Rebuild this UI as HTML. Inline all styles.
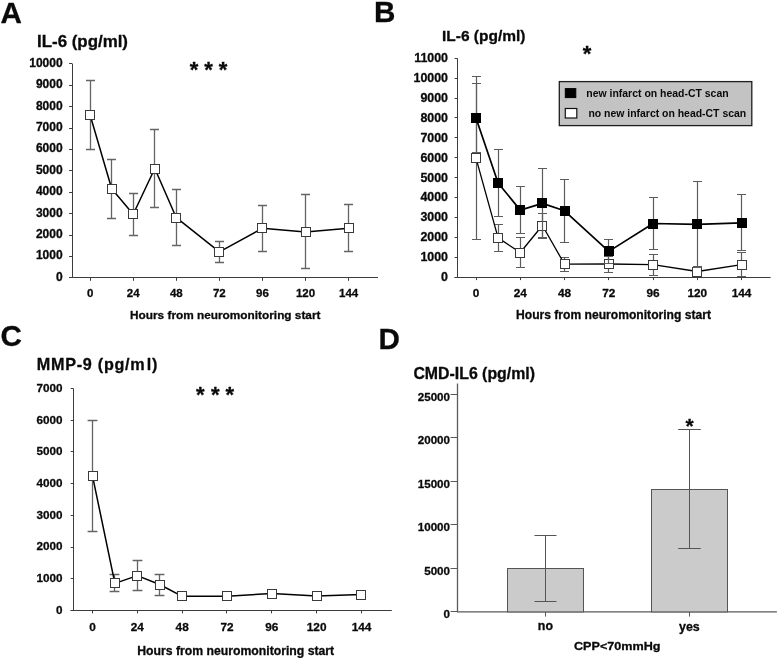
<!DOCTYPE html>
<html><head><meta charset="utf-8"><title>Figure</title>
<style>
html,body{margin:0;padding:0;background:#fff;}
body{width:779px;height:658px;overflow:hidden;}
svg{display:block;font-family:"Liberation Sans", sans-serif;filter:grayscale(1);}
text,path.n{stroke:#0a0a0a;stroke-width:0.3px;stroke-linejoin:round;}
</style></head>
<body>
<svg width="779" height="658" viewBox="0 0 779 658" shape-rendering="auto">
<rect width="779" height="658" fill="#fff"/>
<text x="0.4" y="23.4" font-size="29.6" text-anchor="start" font-weight="bold" fill="#0a0a0a">A</text>
<text x="374.0" y="21.6" font-size="29.6" text-anchor="start" font-weight="bold" fill="#0a0a0a">B</text>
<text x="0.6" y="346.4" font-size="29.6" text-anchor="start" font-weight="bold" fill="#0a0a0a">C</text>
<text x="378.4" y="348.8" font-size="29.6" text-anchor="start" font-weight="bold" fill="#0a0a0a">D</text>
<text x="37.0" y="46.6" font-size="16" text-anchor="start" font-weight="bold" fill="#0a0a0a" textLength="91" lengthAdjust="spacingAndGlyphs">IL-6 (pg/ml)</text>
<line x1="72.5" y1="63.8" x2="72.5" y2="277.8" stroke="#3c3c3c" stroke-width="1"/>
<line x1="69.1" y1="277.5" x2="378.0" y2="277.5" stroke="#3c3c3c" stroke-width="1"/>
<line x1="69.1" y1="277.5" x2="72.3" y2="277.5" stroke="#3c3c3c" stroke-width="1"/>
<text x="62.6" y="280.8" font-size="12" text-anchor="end" font-weight="bold" fill="#0a0a0a">0</text>
<line x1="69.1" y1="256.5" x2="72.3" y2="256.5" stroke="#3c3c3c" stroke-width="1"/>
<text x="62.6" y="259.4" font-size="12" text-anchor="end" font-weight="bold" fill="#0a0a0a">1000</text>
<line x1="69.1" y1="235.5" x2="72.3" y2="235.5" stroke="#3c3c3c" stroke-width="1"/>
<text x="62.6" y="238.0" font-size="12" text-anchor="end" font-weight="bold" fill="#0a0a0a">2000</text>
<line x1="69.1" y1="213.5" x2="72.3" y2="213.5" stroke="#3c3c3c" stroke-width="1"/>
<text x="62.6" y="216.6" font-size="12" text-anchor="end" font-weight="bold" fill="#0a0a0a">3000</text>
<line x1="69.1" y1="192.5" x2="72.3" y2="192.5" stroke="#3c3c3c" stroke-width="1"/>
<text x="62.6" y="195.2" font-size="12" text-anchor="end" font-weight="bold" fill="#0a0a0a">4000</text>
<line x1="69.1" y1="170.5" x2="72.3" y2="170.5" stroke="#3c3c3c" stroke-width="1"/>
<text x="62.6" y="173.8" font-size="12" text-anchor="end" font-weight="bold" fill="#0a0a0a">5000</text>
<line x1="69.1" y1="149.5" x2="72.3" y2="149.5" stroke="#3c3c3c" stroke-width="1"/>
<text x="62.6" y="152.4" font-size="12" text-anchor="end" font-weight="bold" fill="#0a0a0a">6000</text>
<line x1="69.1" y1="128.5" x2="72.3" y2="128.5" stroke="#3c3c3c" stroke-width="1"/>
<text x="62.6" y="131.0" font-size="12" text-anchor="end" font-weight="bold" fill="#0a0a0a">7000</text>
<line x1="69.1" y1="106.5" x2="72.3" y2="106.5" stroke="#3c3c3c" stroke-width="1"/>
<text x="62.6" y="109.6" font-size="12" text-anchor="end" font-weight="bold" fill="#0a0a0a">8000</text>
<line x1="69.1" y1="85.5" x2="72.3" y2="85.5" stroke="#3c3c3c" stroke-width="1"/>
<text x="62.6" y="88.2" font-size="12" text-anchor="end" font-weight="bold" fill="#0a0a0a">9000</text>
<line x1="69.1" y1="63.5" x2="72.3" y2="63.5" stroke="#3c3c3c" stroke-width="1"/>
<text x="62.6" y="66.8" font-size="12" text-anchor="end" font-weight="bold" fill="#0a0a0a">10000</text>
<line x1="90.5" y1="277.8" x2="90.5" y2="280.8" stroke="#3c3c3c" stroke-width="1"/>
<text x="90.13" y="297" font-size="11.5" text-anchor="middle" font-weight="bold" fill="#0a0a0a">0</text>
<line x1="133.5" y1="277.8" x2="133.5" y2="280.8" stroke="#3c3c3c" stroke-width="1"/>
<text x="133.21" y="297" font-size="11.5" text-anchor="middle" font-weight="bold" fill="#0a0a0a">24</text>
<line x1="176.5" y1="277.8" x2="176.5" y2="280.8" stroke="#3c3c3c" stroke-width="1"/>
<text x="176.29" y="297" font-size="11.5" text-anchor="middle" font-weight="bold" fill="#0a0a0a">48</text>
<line x1="219.5" y1="277.8" x2="219.5" y2="280.8" stroke="#3c3c3c" stroke-width="1"/>
<text x="219.37" y="297" font-size="11.5" text-anchor="middle" font-weight="bold" fill="#0a0a0a">72</text>
<line x1="262.5" y1="277.8" x2="262.5" y2="280.8" stroke="#3c3c3c" stroke-width="1"/>
<text x="262.45" y="297" font-size="11.5" text-anchor="middle" font-weight="bold" fill="#0a0a0a">96</text>
<line x1="305.5" y1="277.8" x2="305.5" y2="280.8" stroke="#3c3c3c" stroke-width="1"/>
<text x="305.53" y="297" font-size="11.5" text-anchor="middle" font-weight="bold" fill="#0a0a0a">120</text>
<line x1="348.5" y1="277.8" x2="348.5" y2="280.8" stroke="#3c3c3c" stroke-width="1"/>
<text x="348.61" y="297" font-size="11.5" text-anchor="middle" font-weight="bold" fill="#0a0a0a">144</text>
<text x="130.0" y="318.8" font-size="11.8" text-anchor="start" font-weight="bold" fill="#0a0a0a" textLength="190.5" lengthAdjust="spacingAndGlyphs">Hours from neuromonitoring start</text>
<text x="194.05" y="77.2" font-size="22" text-anchor="middle" font-weight="bold" fill="#0a0a0a">*</text>
<text x="208.5" y="77.2" font-size="22" text-anchor="middle" font-weight="bold" fill="#0a0a0a">*</text>
<text x="222.95" y="77.2" font-size="22" text-anchor="middle" font-weight="bold" fill="#0a0a0a">*</text>
<path d="M90.5 80.5V149.5M86.0 80.5H95.0M86.0 149.5H95.0" stroke="#646464" stroke-width="1.3" fill="none"/>
<path d="M111.5 159.5V218.5M107.0 159.5H116.0M107.0 218.5H116.0" stroke="#646464" stroke-width="1.3" fill="none"/>
<path d="M133.5 193.5V235.5M129.0 193.5H138.0M129.0 235.5H138.0" stroke="#646464" stroke-width="1.3" fill="none"/>
<path d="M154.5 129.5V207.5M150.0 129.5H159.0M150.0 207.5H159.0" stroke="#646464" stroke-width="1.3" fill="none"/>
<path d="M176.5 189.5V245.5M172.0 189.5H181.0M172.0 245.5H181.0" stroke="#646464" stroke-width="1.3" fill="none"/>
<path d="M219.5 241.5V262.5M215.0 241.5H224.0M215.0 262.5H224.0" stroke="#646464" stroke-width="1.3" fill="none"/>
<path d="M262.5 205.5V251.5M258.0 205.5H267.0M258.0 251.5H267.0" stroke="#646464" stroke-width="1.3" fill="none"/>
<path d="M305.5 194.5V268.5M301.0 194.5H310.0M301.0 268.5H310.0" stroke="#646464" stroke-width="1.3" fill="none"/>
<path d="M348.5 204.5V251.5M344.0 204.5H353.0M344.0 251.5H353.0" stroke="#646464" stroke-width="1.3" fill="none"/>
<polyline points="90.1,115.0 111.7,188.7 133.2,214.3 154.8,168.5 176.3,217.7 219.4,251.9 262.4,228.3 305.5,232.0 348.6,228.3" fill="none" stroke="#000" stroke-width="1.5" stroke-linejoin="round"/>
<rect x="85.5" y="110.5" width="9" height="9" fill="#fff" stroke="#3a3a3a" stroke-width="1"/>
<rect x="107.5" y="184.5" width="9" height="9" fill="#fff" stroke="#3a3a3a" stroke-width="1"/>
<rect x="128.5" y="209.5" width="9" height="9" fill="#fff" stroke="#3a3a3a" stroke-width="1"/>
<rect x="150.5" y="164.5" width="9" height="9" fill="#fff" stroke="#3a3a3a" stroke-width="1"/>
<rect x="171.5" y="213.5" width="9" height="9" fill="#fff" stroke="#3a3a3a" stroke-width="1"/>
<rect x="214.5" y="247.5" width="9" height="9" fill="#fff" stroke="#3a3a3a" stroke-width="1"/>
<rect x="257.5" y="223.5" width="9" height="9" fill="#fff" stroke="#3a3a3a" stroke-width="1"/>
<rect x="301.5" y="227.5" width="9" height="9" fill="#fff" stroke="#3a3a3a" stroke-width="1"/>
<rect x="344.5" y="223.5" width="9" height="9" fill="#fff" stroke="#3a3a3a" stroke-width="1"/>
<text x="442.0" y="41.1" font-size="15.2" text-anchor="start" font-weight="bold" fill="#0a0a0a" textLength="83.5" lengthAdjust="spacingAndGlyphs">IL-6 (pg/ml)</text>
<line x1="457.5" y1="58.3" x2="457.5" y2="277.1" stroke="#3c3c3c" stroke-width="1"/>
<line x1="454.6" y1="277.5" x2="770.6" y2="277.5" stroke="#3c3c3c" stroke-width="1"/>
<line x1="454.6" y1="277.5" x2="457.5" y2="277.5" stroke="#3c3c3c" stroke-width="1"/>
<text x="448.0" y="281.0" font-size="12.4" text-anchor="end" font-weight="bold" fill="#0a0a0a">0</text>
<line x1="454.6" y1="257.5" x2="457.5" y2="257.5" stroke="#3c3c3c" stroke-width="1"/>
<text x="448.0" y="261.1" font-size="12.4" text-anchor="end" font-weight="bold" fill="#0a0a0a">1000</text>
<line x1="454.6" y1="237.5" x2="457.5" y2="237.5" stroke="#3c3c3c" stroke-width="1"/>
<text x="448.0" y="241.2" font-size="12.4" text-anchor="end" font-weight="bold" fill="#0a0a0a">2000</text>
<line x1="454.6" y1="217.5" x2="457.5" y2="217.5" stroke="#3c3c3c" stroke-width="1"/>
<text x="448.0" y="221.3" font-size="12.4" text-anchor="end" font-weight="bold" fill="#0a0a0a">3000</text>
<line x1="454.6" y1="197.5" x2="457.5" y2="197.5" stroke="#3c3c3c" stroke-width="1"/>
<text x="448.0" y="201.4" font-size="12.4" text-anchor="end" font-weight="bold" fill="#0a0a0a">4000</text>
<line x1="454.6" y1="177.5" x2="457.5" y2="177.5" stroke="#3c3c3c" stroke-width="1"/>
<text x="448.0" y="181.5" font-size="12.4" text-anchor="end" font-weight="bold" fill="#0a0a0a">5000</text>
<line x1="454.6" y1="157.5" x2="457.5" y2="157.5" stroke="#3c3c3c" stroke-width="1"/>
<text x="448.0" y="161.6" font-size="12.4" text-anchor="end" font-weight="bold" fill="#0a0a0a">6000</text>
<line x1="454.6" y1="137.5" x2="457.5" y2="137.5" stroke="#3c3c3c" stroke-width="1"/>
<text x="448.0" y="141.7" font-size="12.4" text-anchor="end" font-weight="bold" fill="#0a0a0a">7000</text>
<line x1="454.6" y1="117.5" x2="457.5" y2="117.5" stroke="#3c3c3c" stroke-width="1"/>
<text x="448.0" y="121.8" font-size="12.4" text-anchor="end" font-weight="bold" fill="#0a0a0a">8000</text>
<line x1="454.6" y1="98.5" x2="457.5" y2="98.5" stroke="#3c3c3c" stroke-width="1"/>
<text x="448.0" y="101.9" font-size="12.4" text-anchor="end" font-weight="bold" fill="#0a0a0a">9000</text>
<line x1="454.6" y1="78.5" x2="457.5" y2="78.5" stroke="#3c3c3c" stroke-width="1"/>
<text x="448.0" y="82.0" font-size="12.4" text-anchor="end" font-weight="bold" fill="#0a0a0a">10000</text>
<line x1="454.6" y1="58.5" x2="457.5" y2="58.5" stroke="#3c3c3c" stroke-width="1"/>
<text x="448.0" y="62.1" font-size="12.4" text-anchor="end" font-weight="bold" fill="#0a0a0a">11000</text>
<line x1="476.5" y1="277.1" x2="476.5" y2="280.1" stroke="#3c3c3c" stroke-width="1"/>
<text x="476.0" y="297.1" font-size="11.8" text-anchor="middle" font-weight="bold" fill="#0a0a0a">0</text>
<line x1="520.5" y1="277.1" x2="520.5" y2="280.1" stroke="#3c3c3c" stroke-width="1"/>
<text x="520.27" y="297.1" font-size="11.8" text-anchor="middle" font-weight="bold" fill="#0a0a0a">24</text>
<line x1="564.5" y1="277.1" x2="564.5" y2="280.1" stroke="#3c3c3c" stroke-width="1"/>
<text x="564.53" y="297.1" font-size="11.8" text-anchor="middle" font-weight="bold" fill="#0a0a0a">48</text>
<line x1="608.5" y1="277.1" x2="608.5" y2="280.1" stroke="#3c3c3c" stroke-width="1"/>
<text x="608.8" y="297.1" font-size="11.8" text-anchor="middle" font-weight="bold" fill="#0a0a0a">72</text>
<line x1="653.5" y1="277.1" x2="653.5" y2="280.1" stroke="#3c3c3c" stroke-width="1"/>
<text x="653.06" y="297.1" font-size="11.8" text-anchor="middle" font-weight="bold" fill="#0a0a0a">96</text>
<line x1="697.5" y1="277.1" x2="697.5" y2="280.1" stroke="#3c3c3c" stroke-width="1"/>
<text x="697.33" y="297.1" font-size="11.8" text-anchor="middle" font-weight="bold" fill="#0a0a0a">120</text>
<line x1="741.5" y1="277.1" x2="741.5" y2="280.1" stroke="#3c3c3c" stroke-width="1"/>
<text x="741.59" y="297.1" font-size="11.8" text-anchor="middle" font-weight="bold" fill="#0a0a0a">144</text>
<text x="516.0" y="319.3" font-size="12" text-anchor="start" font-weight="bold" fill="#0a0a0a" textLength="195" lengthAdjust="spacingAndGlyphs">Hours from neuromonitoring start</text>
<text x="586.95" y="61.2" font-size="22" text-anchor="middle" font-weight="bold" fill="#0a0a0a">*</text>
<rect x="559.3" y="81.6" width="192.5" height="44" fill="#c3c3c3" stroke="#1e1e1e" stroke-width="1.3"/>
<rect x="565.3" y="88.6" width="10.5" height="9" fill="#000" stroke="#000" stroke-width="1"/>
<rect x="565.3" y="108.5" width="11.5" height="9.5" fill="#fff" stroke="#111" stroke-width="1.2"/>
<text x="586.3" y="97.2" font-size="10.9" text-anchor="start" font-weight="bold" fill="#0a0a0a" textLength="142.3" lengthAdjust="spacingAndGlyphs" style="stroke:none">new infarct on head-CT scan</text>
<text x="588.4" y="117.0" font-size="10.9" text-anchor="start" font-weight="bold" fill="#0a0a0a" textLength="157.8" lengthAdjust="spacingAndGlyphs" style="stroke:none">no new infarct on head-CT scan</text>
<path d="M476.5 76.5V239.5M472.0 76.5H481.0M472.0 239.5H481.0" stroke="#5c5c5c" stroke-width="1.2" fill="none"/>
<path d="M498.5 224.5V251.5M494.0 224.5H503.0M494.0 251.5H503.0" stroke="#5c5c5c" stroke-width="1.2" fill="none"/>
<path d="M520.5 237.5V267.5M516.0 237.5H525.0M516.0 267.5H525.0" stroke="#5c5c5c" stroke-width="1.2" fill="none"/>
<path d="M542.5 213.5V237.5M538.0 213.5H547.0M538.0 237.5H547.0" stroke="#5c5c5c" stroke-width="1.2" fill="none"/>
<path d="M564.5 257.5V271.5M560.0 257.5H569.0M560.0 271.5H569.0" stroke="#5c5c5c" stroke-width="1.2" fill="none"/>
<path d="M608.5 256.5V272.5M604.0 256.5H613.0M604.0 272.5H613.0" stroke="#5c5c5c" stroke-width="1.2" fill="none"/>
<path d="M653.5 254.5V275.5M649.0 254.5H658.0M649.0 275.5H658.0" stroke="#5c5c5c" stroke-width="1.2" fill="none"/>
<path d="M697.5 266.5V276.5M693.0 266.5H702.0M693.0 276.5H702.0" stroke="#5c5c5c" stroke-width="1.2" fill="none"/>
<path d="M741.5 252.5V276.5M737.0 252.5H746.0M737.0 276.5H746.0" stroke="#5c5c5c" stroke-width="1.2" fill="none"/>
<polyline points="476.0,158.2 498.1,237.9 520.3,252.5 542.4,225.5 564.5,264.2 608.8,264.0 653.1,264.7 697.3,271.5 741.6,264.7" fill="none" stroke="#000" stroke-width="1.3" stroke-linejoin="round"/>
<rect x="471.5" y="153.5" width="9" height="9" fill="#fff" stroke="#3a3a3a" stroke-width="1"/>
<rect x="493.5" y="233.5" width="9" height="9" fill="#fff" stroke="#3a3a3a" stroke-width="1"/>
<rect x="515.5" y="248.5" width="9" height="9" fill="#fff" stroke="#3a3a3a" stroke-width="1"/>
<rect x="537.5" y="221.5" width="9" height="9" fill="#fff" stroke="#3a3a3a" stroke-width="1"/>
<rect x="560.5" y="259.5" width="9" height="9" fill="#fff" stroke="#3a3a3a" stroke-width="1"/>
<rect x="604.5" y="259.5" width="9" height="9" fill="#fff" stroke="#3a3a3a" stroke-width="1"/>
<rect x="648.5" y="260.5" width="9" height="9" fill="#fff" stroke="#3a3a3a" stroke-width="1"/>
<rect x="692.5" y="267.5" width="9" height="9" fill="#fff" stroke="#3a3a3a" stroke-width="1"/>
<rect x="737.5" y="260.5" width="9" height="9" fill="#fff" stroke="#3a3a3a" stroke-width="1"/>
<path d="M476.5 83.5V152.5M472.0 83.5H481.0M472.0 152.5H481.0" stroke="#5c5c5c" stroke-width="1.2" fill="none"/>
<path d="M498.5 149.5V216.5M494.0 149.5H503.0M494.0 216.5H503.0" stroke="#5c5c5c" stroke-width="1.2" fill="none"/>
<path d="M520.5 186.5V233.5M516.0 186.5H525.0M516.0 233.5H525.0" stroke="#5c5c5c" stroke-width="1.2" fill="none"/>
<path d="M542.5 168.5V238.5M538.0 168.5H547.0M538.0 238.5H547.0" stroke="#5c5c5c" stroke-width="1.2" fill="none"/>
<path d="M564.5 179.5V242.5M560.0 179.5H569.0M560.0 242.5H569.0" stroke="#5c5c5c" stroke-width="1.2" fill="none"/>
<path d="M608.5 239.5V263.5M604.0 239.5H613.0M604.0 263.5H613.0" stroke="#5c5c5c" stroke-width="1.2" fill="none"/>
<path d="M653.5 197.5V249.5M649.0 197.5H658.0M649.0 249.5H658.0" stroke="#5c5c5c" stroke-width="1.2" fill="none"/>
<path d="M697.5 181.5V267.5M693.0 181.5H702.0M693.0 267.5H702.0" stroke="#5c5c5c" stroke-width="1.2" fill="none"/>
<path d="M741.5 194.5V250.5M737.0 194.5H746.0M737.0 250.5H746.0" stroke="#5c5c5c" stroke-width="1.2" fill="none"/>
<polyline points="476.0,118.0 498.1,183.0 520.3,210.1 542.4,203.4 564.5,210.8 608.8,251.4 653.1,223.5 697.3,224.4 741.6,222.8" fill="none" stroke="#000" stroke-width="1.7" stroke-linejoin="round"/>
<rect x="471.5" y="113.5" width="9" height="9" fill="#000" stroke="#000" stroke-width="1"/>
<rect x="493.5" y="178.5" width="9" height="9" fill="#000" stroke="#000" stroke-width="1"/>
<rect x="515.5" y="205.5" width="9" height="9" fill="#000" stroke="#000" stroke-width="1"/>
<rect x="537.5" y="198.5" width="9" height="9" fill="#000" stroke="#000" stroke-width="1"/>
<rect x="560.5" y="206.5" width="9" height="9" fill="#000" stroke="#000" stroke-width="1"/>
<rect x="604.5" y="246.5" width="9" height="9" fill="#000" stroke="#000" stroke-width="1"/>
<rect x="648.5" y="219.5" width="9" height="9" fill="#000" stroke="#000" stroke-width="1"/>
<rect x="692.5" y="219.5" width="9" height="9" fill="#000" stroke="#000" stroke-width="1"/>
<rect x="737.5" y="218.5" width="9" height="9" fill="#000" stroke="#000" stroke-width="1"/>
<text x="36.8" y="370.3" font-size="16.2" font-weight="bold" fill="#0a0a0a" letter-spacing="0.72">MMP-9 (pg/m<tspan dx="1.3">l)</tspan></text>
<line x1="73.5" y1="388.4" x2="73.5" y2="610.4" stroke="#3c3c3c" stroke-width="1"/>
<line x1="70.7" y1="610.5" x2="391.8" y2="610.5" stroke="#3c3c3c" stroke-width="1"/>
<line x1="70.7" y1="610.5" x2="73.3" y2="610.5" stroke="#3c3c3c" stroke-width="1"/>
<text x="62.6" y="613.7" font-size="11.7" text-anchor="end" font-weight="bold" fill="#0a0a0a">0</text>
<line x1="70.7" y1="578.5" x2="73.3" y2="578.5" stroke="#3c3c3c" stroke-width="1"/>
<text x="62.6" y="582.0" font-size="11.7" text-anchor="end" font-weight="bold" fill="#0a0a0a">1000</text>
<line x1="70.7" y1="547.5" x2="73.3" y2="547.5" stroke="#3c3c3c" stroke-width="1"/>
<text x="62.6" y="550.3" font-size="11.7" text-anchor="end" font-weight="bold" fill="#0a0a0a">2000</text>
<line x1="70.7" y1="515.5" x2="73.3" y2="515.5" stroke="#3c3c3c" stroke-width="1"/>
<text x="62.6" y="518.6" font-size="11.7" text-anchor="end" font-weight="bold" fill="#0a0a0a">3000</text>
<line x1="70.7" y1="483.5" x2="73.3" y2="483.5" stroke="#3c3c3c" stroke-width="1"/>
<text x="62.6" y="486.9" font-size="11.7" text-anchor="end" font-weight="bold" fill="#0a0a0a">4000</text>
<line x1="70.7" y1="451.5" x2="73.3" y2="451.5" stroke="#3c3c3c" stroke-width="1"/>
<text x="62.6" y="455.2" font-size="11.7" text-anchor="end" font-weight="bold" fill="#0a0a0a">5000</text>
<line x1="70.7" y1="420.5" x2="73.3" y2="420.5" stroke="#3c3c3c" stroke-width="1"/>
<text x="62.6" y="423.5" font-size="11.7" text-anchor="end" font-weight="bold" fill="#0a0a0a">6000</text>
<line x1="70.7" y1="388.5" x2="73.3" y2="388.5" stroke="#3c3c3c" stroke-width="1"/>
<text x="62.6" y="391.8" font-size="11.7" text-anchor="end" font-weight="bold" fill="#0a0a0a">7000</text>
<line x1="92.5" y1="610.4" x2="92.5" y2="613.4" stroke="#3c3c3c" stroke-width="1"/>
<text x="92.5" y="631.2" font-size="11.8" text-anchor="middle" font-weight="bold" fill="#0a0a0a">0</text>
<line x1="137.5" y1="610.4" x2="137.5" y2="613.4" stroke="#3c3c3c" stroke-width="1"/>
<text x="137.33" y="631.2" font-size="11.8" text-anchor="middle" font-weight="bold" fill="#0a0a0a">24</text>
<line x1="182.5" y1="610.4" x2="182.5" y2="613.4" stroke="#3c3c3c" stroke-width="1"/>
<text x="182.16" y="631.2" font-size="11.8" text-anchor="middle" font-weight="bold" fill="#0a0a0a">48</text>
<line x1="226.5" y1="610.4" x2="226.5" y2="613.4" stroke="#3c3c3c" stroke-width="1"/>
<text x="227.0" y="631.2" font-size="11.8" text-anchor="middle" font-weight="bold" fill="#0a0a0a">72</text>
<line x1="271.5" y1="610.4" x2="271.5" y2="613.4" stroke="#3c3c3c" stroke-width="1"/>
<text x="271.83" y="631.2" font-size="11.8" text-anchor="middle" font-weight="bold" fill="#0a0a0a">96</text>
<line x1="316.5" y1="610.4" x2="316.5" y2="613.4" stroke="#3c3c3c" stroke-width="1"/>
<text x="316.66" y="631.2" font-size="11.8" text-anchor="middle" font-weight="bold" fill="#0a0a0a">120</text>
<line x1="361.5" y1="610.4" x2="361.5" y2="613.4" stroke="#3c3c3c" stroke-width="1"/>
<text x="361.49" y="631.2" font-size="11.8" text-anchor="middle" font-weight="bold" fill="#0a0a0a">144</text>
<text x="137.2" y="654.5" font-size="12.1" text-anchor="start" font-weight="bold" fill="#0a0a0a" textLength="197" lengthAdjust="spacingAndGlyphs">Hours from neuromonitoring start</text>
<text x="200.2" y="401.5" font-size="22" text-anchor="middle" font-weight="bold" fill="#0a0a0a">*</text>
<text x="215.25" y="401.5" font-size="22" text-anchor="middle" font-weight="bold" fill="#0a0a0a">*</text>
<text x="229.85" y="401.5" font-size="22" text-anchor="middle" font-weight="bold" fill="#0a0a0a">*</text>
<path d="M92.5 420.5V531.5M87.6 420.5H97.4M87.6 531.5H97.4" stroke="#646464" stroke-width="1.3" fill="none"/>
<path d="M114.5 574.5V591.5M109.6 574.5H119.4M109.6 591.5H119.4" stroke="#646464" stroke-width="1.3" fill="none"/>
<path d="M137.5 560.5V590.5M132.6 560.5H142.4M132.6 590.5H142.4" stroke="#646464" stroke-width="1.3" fill="none"/>
<path d="M159.5 574.5V595.5M154.6 574.5H164.4M154.6 595.5H164.4" stroke="#646464" stroke-width="1.3" fill="none"/>
<polyline points="92.5,475.8 114.9,583.4 137.3,575.6 159.7,584.5 182.2,596.3 227.0,596.3 271.8,593.5 316.7,596.1 361.5,594.6" fill="none" stroke="#000" stroke-width="1.5" stroke-linejoin="round"/>
<rect x="88.5" y="471.5" width="9" height="9" fill="#fff" stroke="#3a3a3a" stroke-width="1"/>
<rect x="110.5" y="578.5" width="9" height="9" fill="#fff" stroke="#3a3a3a" stroke-width="1"/>
<rect x="132.5" y="571.5" width="9" height="9" fill="#fff" stroke="#3a3a3a" stroke-width="1"/>
<rect x="155.5" y="580.5" width="9" height="9" fill="#fff" stroke="#3a3a3a" stroke-width="1"/>
<rect x="177.5" y="591.5" width="9" height="9" fill="#fff" stroke="#3a3a3a" stroke-width="1"/>
<rect x="222.5" y="591.5" width="9" height="9" fill="#fff" stroke="#3a3a3a" stroke-width="1"/>
<rect x="267.5" y="589.5" width="9" height="9" fill="#fff" stroke="#3a3a3a" stroke-width="1"/>
<rect x="312.5" y="591.5" width="9" height="9" fill="#fff" stroke="#3a3a3a" stroke-width="1"/>
<rect x="356.5" y="590.5" width="9" height="9" fill="#fff" stroke="#3a3a3a" stroke-width="1"/>
<text x="413.4" y="379.0" font-size="15.6" text-anchor="start" font-weight="bold" fill="#0a0a0a" textLength="121.6" lengthAdjust="spacingAndGlyphs">CMD-IL6 (pg/ml)</text>
<path d="M457.5 383.5V611.9H776.9" stroke="#5a5a5a" stroke-width="1.3" fill="none"/>
<line x1="450.5" y1="611.5" x2="457.5" y2="611.5" stroke="#5a5a5a" stroke-width="1"/>
<text x="450.0" y="618.1" font-size="11.6" text-anchor="end" font-weight="bold" fill="#0a0a0a">0</text>
<line x1="450.5" y1="568.5" x2="457.5" y2="568.5" stroke="#5a5a5a" stroke-width="1"/>
<text x="450.0" y="574.6" font-size="11.6" text-anchor="end" font-weight="bold" fill="#0a0a0a">5000</text>
<line x1="450.5" y1="524.5" x2="457.5" y2="524.5" stroke="#5a5a5a" stroke-width="1"/>
<text x="450.0" y="531.1" font-size="11.6" text-anchor="end" font-weight="bold" fill="#0a0a0a">10000</text>
<line x1="450.5" y1="481.5" x2="457.5" y2="481.5" stroke="#5a5a5a" stroke-width="1"/>
<text x="450.0" y="487.6" font-size="11.6" text-anchor="end" font-weight="bold" fill="#0a0a0a">15000</text>
<line x1="450.5" y1="437.5" x2="457.5" y2="437.5" stroke="#5a5a5a" stroke-width="1"/>
<text x="450.0" y="444.1" font-size="11.6" text-anchor="end" font-weight="bold" fill="#0a0a0a">20000</text>
<line x1="450.5" y1="394.5" x2="457.5" y2="394.5" stroke="#5a5a5a" stroke-width="1"/>
<text x="450.0" y="400.6" font-size="11.6" text-anchor="end" font-weight="bold" fill="#0a0a0a">25000</text>
<rect x="507.5" y="568.5" width="76" height="43.39999999999998" fill="#cbcbcb" stroke="#555" stroke-width="1"/>
<rect x="651.5" y="489.5" width="76" height="122.39999999999998" fill="#cbcbcb" stroke="#555" stroke-width="1"/>
<path d="M545.5 535.5V601.5M534.5 535.5H556.5M534.5 601.5H556.5" stroke="#555" stroke-width="1" fill="none"/>
<path d="M689.5 429.5V548.5M678.2 429.5H700.8M678.2 548.5H700.8" stroke="#555" stroke-width="1" fill="none"/>
<line x1="545.5" y1="611.9" x2="545.5" y2="616.6" stroke="#5a5a5a" stroke-width="1"/>
<line x1="689.5" y1="611.9" x2="689.5" y2="616.6" stroke="#5a5a5a" stroke-width="1"/>
<text x="545.4" y="630.2" font-size="12.4" text-anchor="middle" font-weight="bold" fill="#0a0a0a">no</text>
<text x="689.4" y="630.7" font-size="12.4" text-anchor="middle" font-weight="bold" fill="#0a0a0a">yes</text>
<text x="574.0" y="650.3" font-size="11.5" text-anchor="start" font-weight="bold" fill="#0a0a0a" textLength="86.5" lengthAdjust="spacingAndGlyphs">CPP&lt;70mmHg</text>
<text x="689.6" y="433.3" font-size="21" text-anchor="middle" font-weight="bold" fill="#0a0a0a">*</text>
</svg>
</body></html>
